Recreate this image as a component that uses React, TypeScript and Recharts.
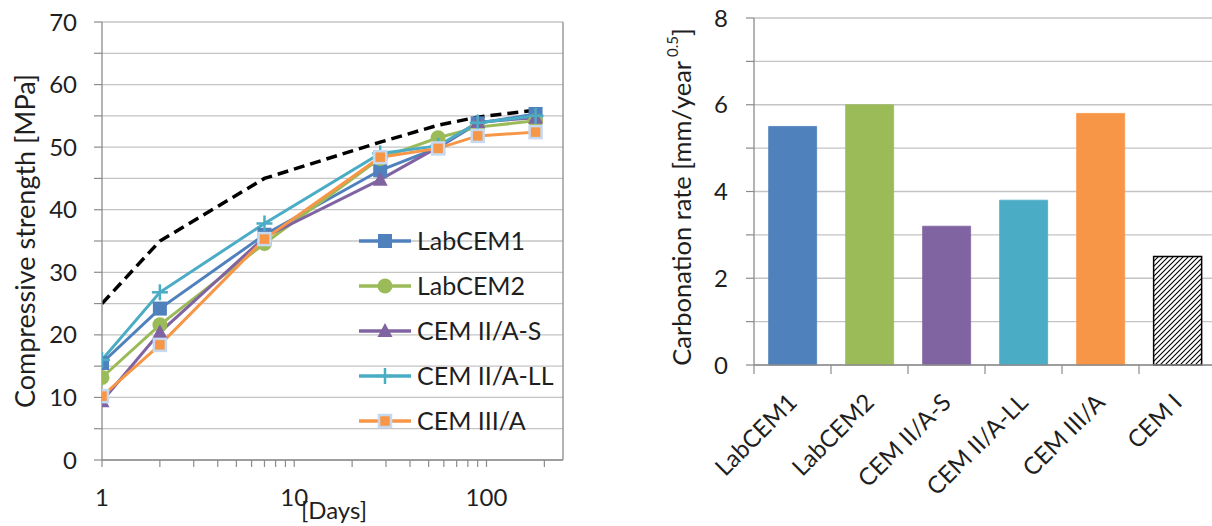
import React from 'react';
import {
  LineChart, Line, XAxis, YAxis, CartesianGrid, Legend, ReferenceLine,
  BarChart, Bar, Cell, Label,
} from 'recharts';

const FONT = 'Lato, "Open Sans", sans-serif';
const TEXT = '#1f1f1f';
const GRID = '#c4c4c4';
const AXIS = '#8c8c8c';

// ---------- Left chart data ----------
const days = [1, 2, 7, 28, 56, 90, 180];
const labCem1 = [15.5, 24.2, 36.0, 46.3, 49.9, 53.8, 55.3];
const labCem2 = [13.2, 21.6, 34.6, 48.2, 51.5, 53.2, 54.2];
const cemIIAS = [9.4, 20.4, 35.6, 44.8, 50.0, 54.0, 54.7];
const cemIIALL = [16.0, 26.8, 37.8, 49.0, 50.2, 53.9, 55.0];
const cemIIIA = [10.2, 18.4, 35.3, 48.4, 49.8, 51.8, 52.4];
const cemIRef = [25.0, 35.0, 45.0, 50.8, 53.5, 54.8, 55.9];

const seriesNames = ['LabCEM1', 'LabCEM2', 'CEM II/A-S', 'CEM II/A-LL', 'CEM III/A'];
const seriesKeys = ['labCem1', 'labCem2', 'cemIIAS', 'cemIIALL', 'cemIIIA'];
const seriesValues = [labCem1, labCem2, cemIIAS, cemIIALL, cemIIIA];

const xTicks = [1, 2, 3, 4, 5, 6, 7, 8, 9, 10, 20, 30, 40, 50, 60, 70, 80, 90, 100, 200];
const xTickLabels = [1, 10, 100];
const yTicksLeft = [0, 5, 10, 15, 20, 25, 30, 35, 40, 45, 50, 55, 60, 65, 70];

// ---------- Right chart data ----------
const cements = ['LabCEM1', 'LabCEM2', 'CEM II/A-S', 'CEM II/A-LL', 'CEM III/A', 'CEM I'];
const carbonationRate = [5.5, 6.0, 3.2, 3.8, 5.8, 2.5];
const yTicksRight = [0, 1, 2, 3, 4, 5, 6, 7, 8];

const lineData = days.map((d, i) => {
  const row: any = { day: d, cemIRef: cemIRef[i] };
  seriesKeys.forEach((k, j) => { row[k] = seriesValues[j][i]; });
  return row;
});
const barData = cements.map((c, i) => ({ name: c, rate: carbonationRate[i] }));

// styles
const colors = ['#4f81bd', '#9bbb59', '#8064a2', '#4bacc6', '#f79646'];
const kinds = ['square', 'circle', 'triangle', 'plus', 'squareBorder'];
const barFills = ['#4f81bd', '#9bbb59', '#8064a2', '#4bacc6', '#f79646', 'url(#hatchCemI)'];

function marker(kind: string, cx: number, cy: number, color: string, key?: any) {
  switch (kind) {
    case 'square':
      return <rect key={key} x={cx - 7} y={cy - 7} width={14} height={14} fill={color} />;
    case 'circle':
      return <circle key={key} cx={cx} cy={cy} r={7.5} fill={color} />;
    case 'triangle':
      return <polygon key={key} points={`${cx},${cy - 8} ${cx + 7.5},${cy + 6} ${cx - 7.5},${cy + 6}`} fill={color} />;
    case 'plus':
      return (
        <g key={key}>
          <line x1={cx - 8} y1={cy} x2={cx + 8} y2={cy} stroke={color} strokeWidth={2.5} />
          <line x1={cx} y1={cy - 8} x2={cx} y2={cy + 8} stroke={color} strokeWidth={2.5} />
        </g>
      );
    default:
      return <rect key={key} x={cx - 6} y={cy - 6} width={12} height={12} fill={color} stroke="#c6d9f1" strokeWidth={2.5} />;
  }
}

const LogTick = (props: any) => {
  const { x, y, payload } = props;
  if (!xTickLabels.includes(payload.value)) return <g />;
  return (
    <text x={x} y={y + 37} textAnchor="middle" fontSize={24} fill={TEXT} fontFamily={FONT}>
      {payload.value}
    </text>
  );
};

const LeftYTick = (props: any) => {
  const { x, y, payload } = props;
  if (payload.value % 10 !== 0) return <g />;
  return (
    <text x={x} y={y} dy="0.36em" textAnchor="end" fontSize={24} fill={TEXT} fontFamily={FONT}>
      {payload.value}
    </text>
  );
};

const RightYTick = (props: any) => {
  const { x, y, payload } = props;
  if (payload.value % 2 !== 0) return <g />;
  return (
    <text x={x} y={y} dy="0.36em" textAnchor="end" fontSize={24} fill={TEXT} fontFamily={FONT}>
      {payload.value}
    </text>
  );
};

const CatTick = (props: any) => {
  const { x, y, payload } = props;
  const half = typeof payload.offset === 'number' && payload.offset > 0 ? payload.offset : 38.5;
  const tx = x + 6;
  const ty = y + 39;
  return (
    <g>
      <line x1={x - half} y1={y} x2={x - half} y2={y + 9} stroke={AXIS} strokeWidth={1.2} />
      <text x={tx} y={ty} textAnchor="end" fontSize={24} fill={TEXT} fontFamily={FONT}
        transform={`rotate(-45 ${tx} ${ty})`}>
        {payload.value}
      </text>
    </g>
  );
};

const LegendContent = () => (
  <div style={{ fontFamily: FONT, fontSize: 25, color: TEXT }}>
    {seriesNames.map((name, i) => (
      <div key={name} style={{ display: 'flex', alignItems: 'center', height: 45 }}>
        <svg width={52} height={20} style={{ overflow: 'visible' }}>
          <line x1={0} y1={10} x2={52} y2={10} stroke={colors[i]} strokeWidth={3.5} />
          {marker(kinds[i], 26, 10, colors[i])}
        </svg>
        <span style={{ marginLeft: 6, lineHeight: '25px' }}>{name}</span>
      </div>
    ))}
  </div>
);

const makeDot = (i: number) => (p: any) => marker(kinds[i], p.cx, p.cy, colors[i], `${i}-${p.index}`);

export default function App() {
  return (
    <div style={{ position: 'absolute', left: 0, top: 0, width: 1212, height: 526, overflow: 'hidden', background: '#fff' }}>
      <div style={{ position: 'absolute', left: 0, top: 0 }}>
        <LineChart width={600} height={526} data={lineData} margin={{ top: 22, right: 37, bottom: 0, left: 0 }}>
          <CartesianGrid vertical={false} stroke={GRID} strokeWidth={1.3} />
          <XAxis
            dataKey="day" type="number" scale="log" domain={[1, 250]} ticks={xTicks} interval={0}
            allowDataOverflow height={66} tickSize={7} tick={<LogTick />}
            axisLine={{ stroke: AXIS, strokeWidth: 1.3 }} tickLine={{ stroke: AXIS, strokeWidth: 1.2 }}
          >
            <Label
              content={() => (
                <text x={334} y={519} textAnchor="middle" fontSize={24} fill={TEXT} fontFamily={FONT}>[Days]</text>
              )}
            />
          </XAxis>
          <YAxis
            domain={[0, 70]} ticks={yTicksLeft} interval={0} width={102} tickSize={8} tickMargin={17}
            tick={<LeftYTick />} axisLine={{ stroke: AXIS, strokeWidth: 1.3 }} tickLine={{ stroke: AXIS, strokeWidth: 1.2 }}
          >
            <Label
              content={() => (
                <text x={24} y={241} textAnchor="middle" dominantBaseline="central" fontSize={27} fill={TEXT}
                  fontFamily={FONT} transform="rotate(-90 24 241)">
                  Compressive strength [MPa]
                </text>
              )}
            />
          </YAxis>
          <ReferenceLine x={250} stroke={AXIS} strokeWidth={1.3} />
          <Line dataKey="cemIRef" stroke="#000" strokeWidth={3.5} strokeDasharray="11 6" dot={false}
            activeDot={false} legendType="none" isAnimationActive={false} />
          {seriesKeys.map((k, i) => (
            <Line key={k} dataKey={k} name={seriesNames[i]} stroke={colors[i]} strokeWidth={3}
              dot={makeDot(i)} activeDot={false} isAnimationActive={false} />
          ))}
          <Legend layout="vertical" align="center" verticalAlign="middle" content={<LegendContent />}
            wrapperStyle={{ left: 359, top: 218, width: 230, height: 225, margin: 0 }} />
        </LineChart>
      </div>
      <div style={{ position: 'absolute', left: 600, top: 0 }}>
        <BarChart width={620} height={526} data={barData} margin={{ top: 18, right: 4, bottom: 0, left: 0 }}
          barCategoryGap="19%">
          <defs>
            <pattern id="hatchCemI" patternUnits="userSpaceOnUse" width={5} height={5}>
              <rect x={0} y={0} width={5} height={5} fill="#fff" />
              <path d="M-1,1 L1,-1 M0,5 L5,0 M4,6 L6,4" stroke="#000" strokeWidth={1.1} />
            </pattern>
          </defs>
          <CartesianGrid vertical={false} stroke={GRID} strokeWidth={1.3} />
          <XAxis dataKey="name" height={161} interval={0} tickSize={0} tickMargin={0} tickLine={false}
            tick={<CatTick />} axisLine={{ stroke: AXIS, strokeWidth: 1.3 }} />
          <YAxis domain={[0, 8]} ticks={yTicksRight} interval={0} width={154} tickSize={8} tickMargin={18}
            tick={<RightYTick />} axisLine={{ stroke: AXIS, strokeWidth: 1.3 }} tickLine={{ stroke: AXIS, strokeWidth: 1.2 }}>
            <Label
              content={() => (
                <text x={81} y={197} textAnchor="middle" dominantBaseline="central" fontSize={25.5} fill={TEXT}
                  fontFamily={FONT} transform="rotate(-90 81 197)">
                  Carbonation rate [mm/year
                  <tspan fontSize={15} dy={-9}> 0.5</tspan>
                  <tspan dy={9}>]</tspan>
                </text>
              )}
            />
          </YAxis>
          <Bar dataKey="rate" isAnimationActive={false}>
            {barData.map((d, i) => (
              <Cell key={d.name} fill={barFills[i]} stroke={i === 5 ? '#000' : barFills[i]}
                strokeWidth={i === 5 ? 1.5 : 0.8} />
            ))}
          </Bar>
        </BarChart>
      </div>
    </div>
  );
}
